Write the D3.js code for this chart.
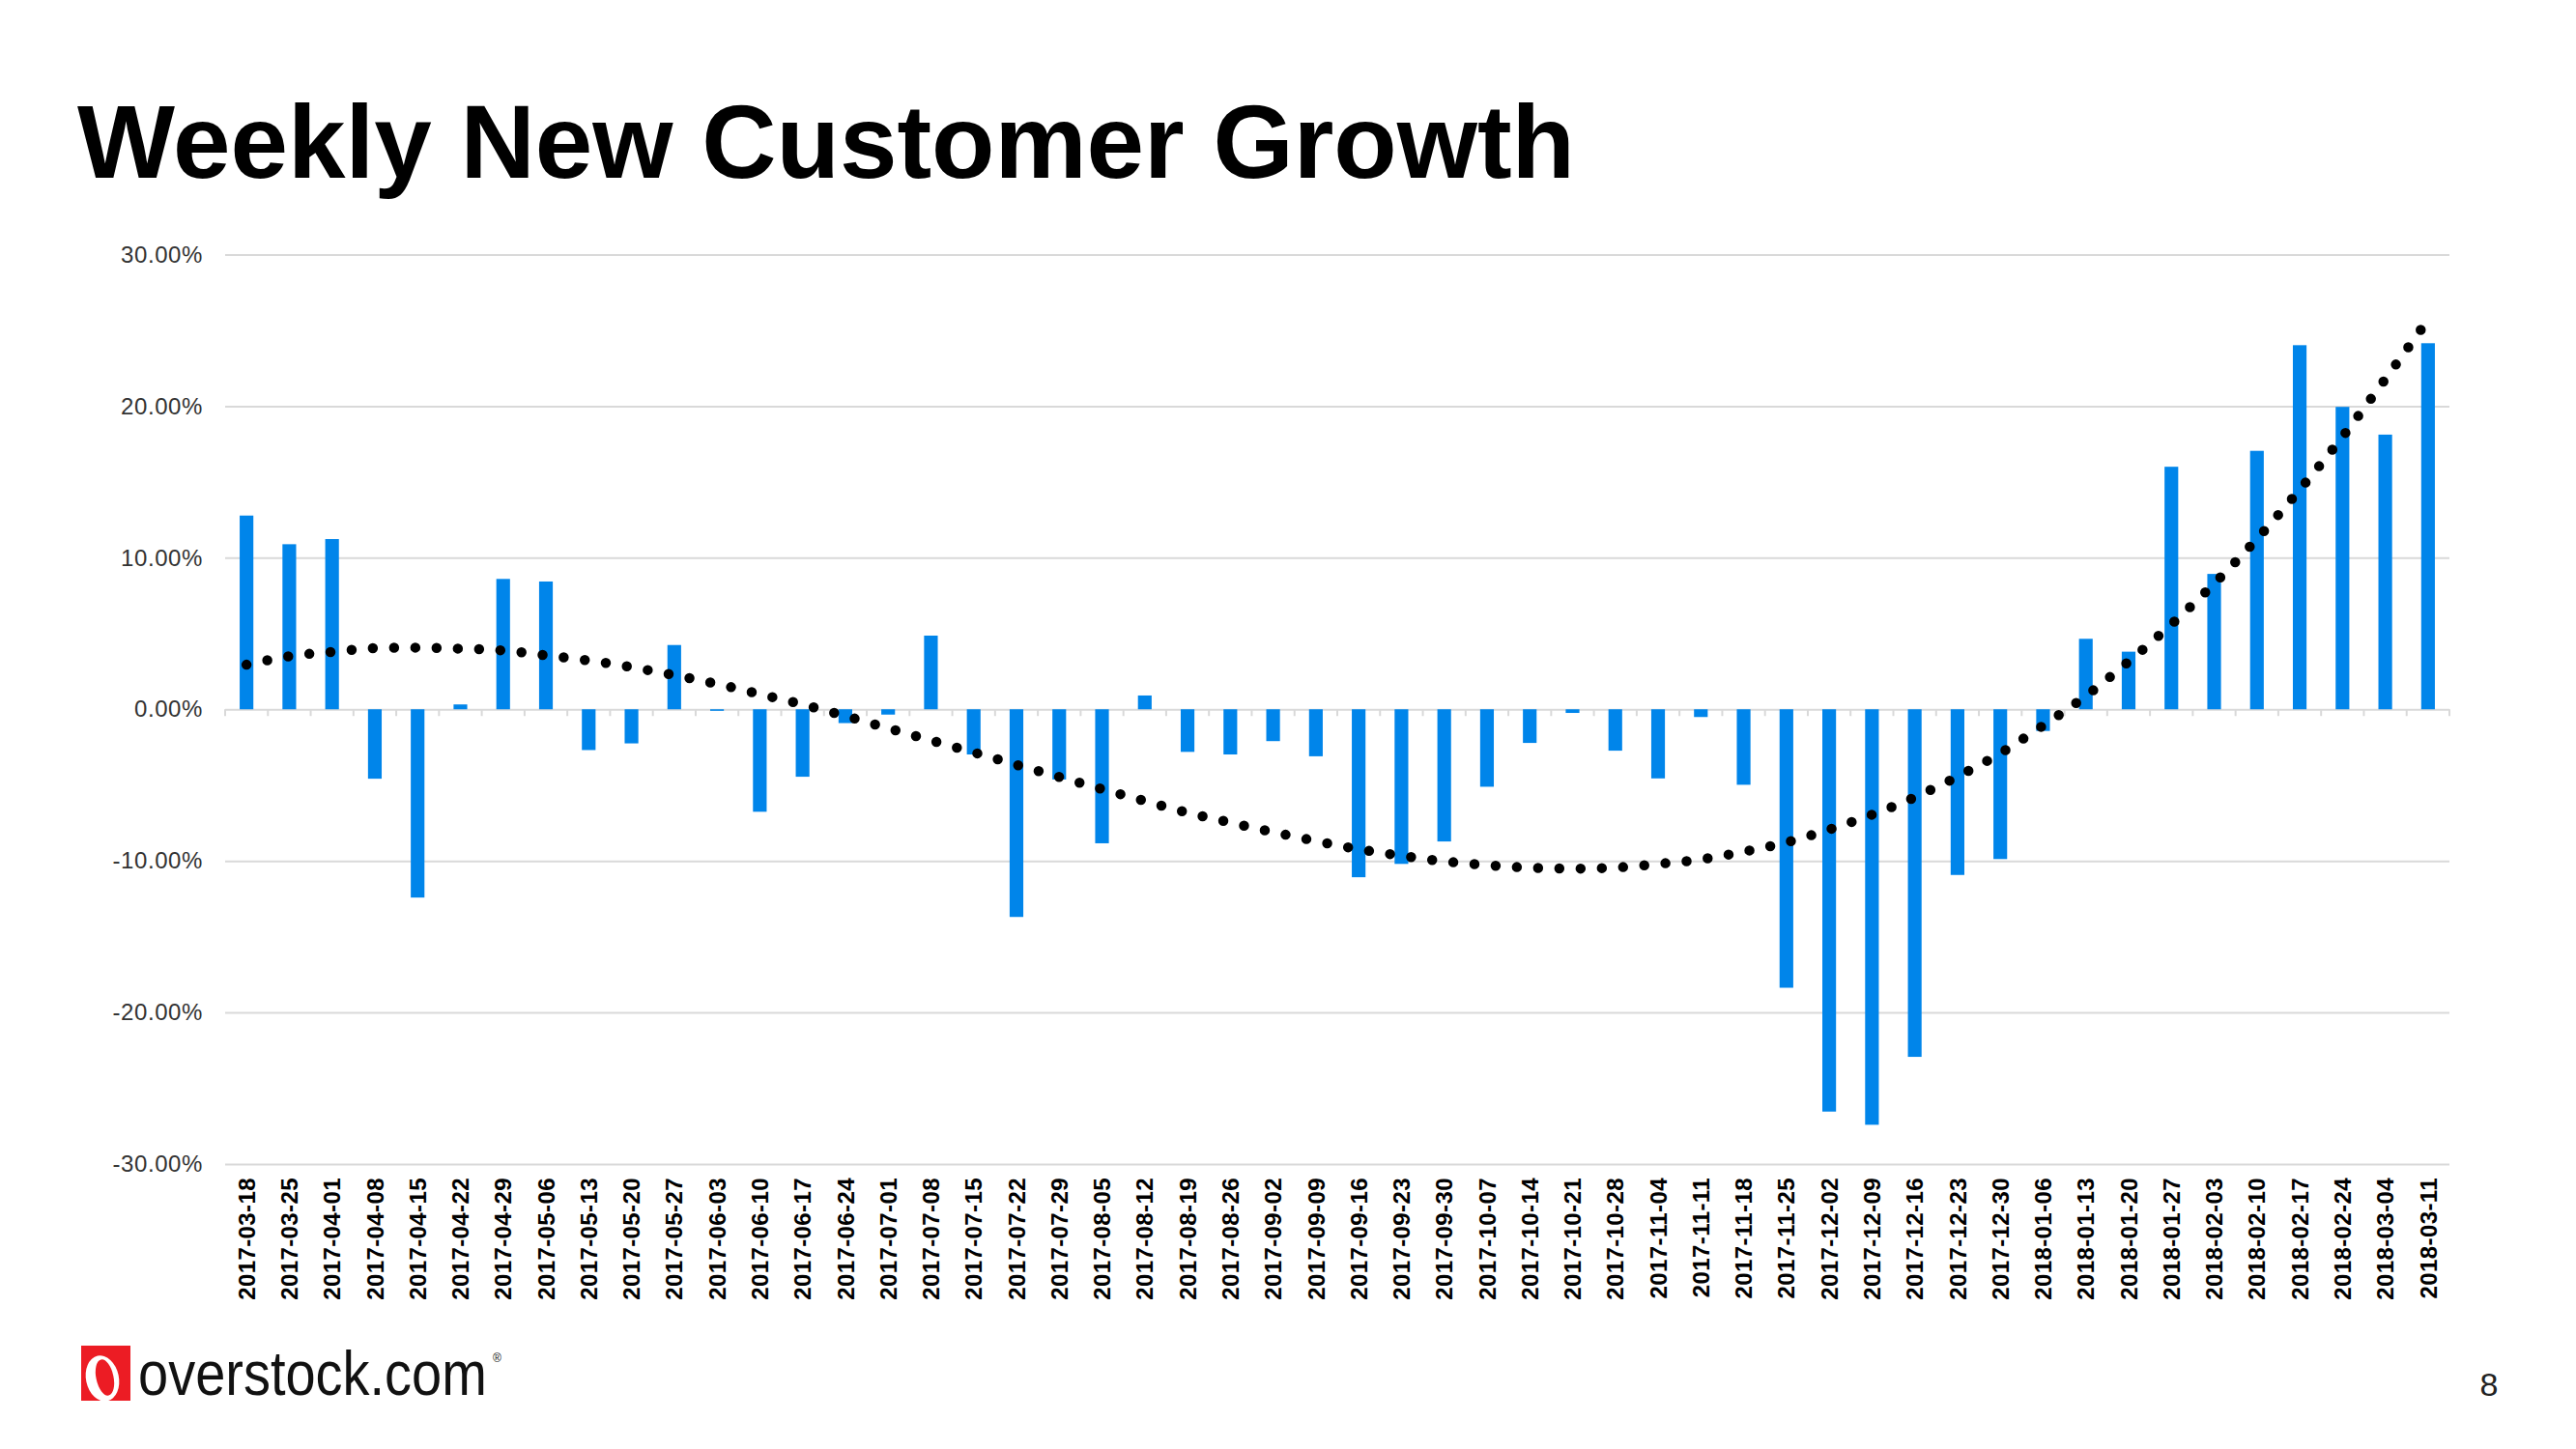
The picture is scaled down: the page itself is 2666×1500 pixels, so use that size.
<!DOCTYPE html>
<html><head><meta charset="utf-8">
<script src="https://cdn.jsdelivr.net/npm/d3@7"></script>
<style>html,body{margin:0;padding:0;background:#fff;} svg{display:block;}</style>
</head><body>
<script>
const title = "Weekly New Customer Growth";
const pageNumber = "8";
const categories = [
  "2017-03-18","2017-03-25","2017-04-01","2017-04-08","2017-04-15","2017-04-22","2017-04-29","2017-05-06",
  "2017-05-13","2017-05-20","2017-05-27","2017-06-03","2017-06-10","2017-06-17","2017-06-24","2017-07-01",
  "2017-07-08","2017-07-15","2017-07-22","2017-07-29","2017-08-05","2017-08-12","2017-08-19","2017-08-26",
  "2017-09-02","2017-09-09","2017-09-16","2017-09-23","2017-09-30","2017-10-07","2017-10-14","2017-10-21",
  "2017-10-28","2017-11-04","2017-11-11","2017-11-18","2017-11-25","2017-12-02","2017-12-09","2017-12-16",
  "2017-12-23","2017-12-30","2018-01-06","2018-01-13","2018-01-20","2018-01-27","2018-02-03","2018-02-10",
  "2018-02-17","2018-02-24","2018-03-04","2018-03-11"
];
// weekly growth, percent
const growth = [
  12.78, 10.89, 11.23, -4.58, -12.42, 0.32, 8.60, 8.43,
  -2.69, -2.25, 4.24, -0.10, -6.76, -4.45, -0.91, -0.35,
  4.86, -2.98, -13.70, -4.63, -8.84, 0.91, -2.81, -2.98,
  -2.10, -3.10, -11.08, -10.20, -8.72, -5.11, -2.22, -0.24,
  -2.73, -4.56, -0.51, -4.98, -18.37, -26.54, -27.41, -22.93,
  -10.93, -9.88, -1.43, 4.65, 3.80, 16.00, 8.93, 17.05,
  24.02, 19.95, 18.12, 24.15
];
// polynomial trendline, read at each week
const trend = [
  2.94, 3.50, 3.79, 4.03, 4.07, 4.00, 3.88, 3.56,
  3.22, 2.78, 2.25, 1.67, 1.00, 0.32, -0.44, -1.25,
  -2.05, -2.84, -3.66, -4.46, -5.26, -6.05, -6.82, -7.47,
  -8.10, -8.69, -9.23, -9.66, -10.03, -10.28, -10.45, -10.51,
  -10.44, -10.20, -9.90, -9.39, -8.78, -7.93, -6.95, -5.80,
  -4.44, -2.90, -1.07, 0.88, 3.15, 5.61, 8.29, 11.24,
  14.49, 17.98, 21.78, 25.70
];
const yTicks = [-30, -20, -10, 0, 10, 20, 30];

const W = 2666, H = 1500;
const plotLeft = 233, plotRight = 2535, plotTop = 263.5, plotBottom = 1205;
const font = "'Liberation Sans', Arial, Helvetica, sans-serif";

const svg = d3.select("body").append("svg").attr("width", W).attr("height", H)
  .style("font-family", font);

const x = d3.scaleBand().domain(categories).range([plotLeft, plotRight]).paddingInner(0.68).paddingOuter(0.34);
const y = d3.scaleLinear().domain([-30, 30]).range([plotBottom, plotTop]);
const cx = c => x(c) + x.bandwidth() / 2;

// title
svg.append("text").attr("x", 80).attr("y", 184)
  .attr("font-size", 107).attr("font-weight", "bold").attr("fill", "#000")
  .text(title);

// y axis with gridlines
const yAxis = svg.append("g").attr("transform", `translate(${plotLeft},0)`)
  .call(d3.axisLeft(y).tickValues(yTicks).tickSizeInner(-(plotRight - plotLeft)).tickSizeOuter(0)
    .tickPadding(23).tickFormat(d => d.toFixed(2) + "%"));
yAxis.select(".domain").remove();
yAxis.selectAll(".tick line").attr("stroke", "#d9d9d9").attr("stroke-width", 2);
yAxis.selectAll(".tick text").attr("font-size", 24).attr("letter-spacing", 0.6)
  .attr("fill", "#333").attr("font-family", font);

// zero-line ticks at band boundaries
const step = x.step();
const bounds = categories.map(c => x(c) - x.paddingOuter() * step).concat([plotRight]);
svg.append("g").selectAll("line").data(bounds).join("line")
  .attr("x1", d => d).attr("x2", d => d)
  .attr("y1", y(0)).attr("y2", y(0) + 7)
  .attr("stroke", "#d9d9d9").attr("stroke-width", 2);

// bars
svg.append("g").selectAll("rect").data(categories).join("rect")
  .attr("x", c => x(c))
  .attr("width", x.bandwidth())
  .attr("y", (c, i) => y(Math.max(0, growth[i])))
  .attr("height", (c, i) => Math.abs(y(growth[i]) - y(0)))
  .attr("fill", "#0085EA");

// trend line (round dots)
const line = d3.line().x((d, i) => cx(categories[i])).y(d => y(d)).curve(d3.curveMonotoneX);
svg.append("path").datum(trend).attr("d", line)
  .attr("fill", "none").attr("stroke", "#000").attr("stroke-width", 10.5)
  .attr("stroke-linecap", "round").attr("stroke-dasharray", "0 22");

// x labels at bottom
const xAxis = svg.append("g").attr("transform", `translate(0,1219)`)
  .call(d3.axisBottom(x).tickSize(0));
xAxis.select(".domain").remove();
xAxis.selectAll(".tick text")
  .attr("transform", "rotate(-90)").attr("text-anchor", "end")
  .attr("x", 0).attr("y", 0).attr("dy", "0.36em")
  .attr("font-size", 24).attr("letter-spacing", 0.4).attr("font-weight", "bold").attr("fill", "#000")
  .attr("font-family", font);

// logo
const logo = svg.append("g");
logo.append("rect").attr("x", 84).attr("y", 1393).attr("width", 51).attr("height", 57).attr("fill", "#EC1C24");
logo.append("ellipse").attr("cx", 106).attr("cy", 1427).attr("rx", 17).attr("ry", 24)
  .attr("transform", "rotate(-12,106,1427)").attr("fill", "#fff");
logo.append("ellipse").attr("cx", 108.5).attr("cy", 1426).attr("rx", 9).attr("ry", 19)
  .attr("transform", "rotate(-12,108.5,1426)").attr("fill", "#EC1C24");
logo.append("text").attr("transform", "translate(143,1444) scale(1,1.15)").attr("font-size", 56)
  .attr("fill", "#111").text("overstock.com");
logo.append("text").attr("x", 510).attr("y", 1410).attr("font-size", 12).attr("fill", "#111").text("®");

// page number
svg.append("text").attr("x", 2576).attr("y", 1445).attr("text-anchor", "middle")
  .attr("font-size", 34).attr("fill", "#222").text(pageNumber);
</script>
</body></html>
